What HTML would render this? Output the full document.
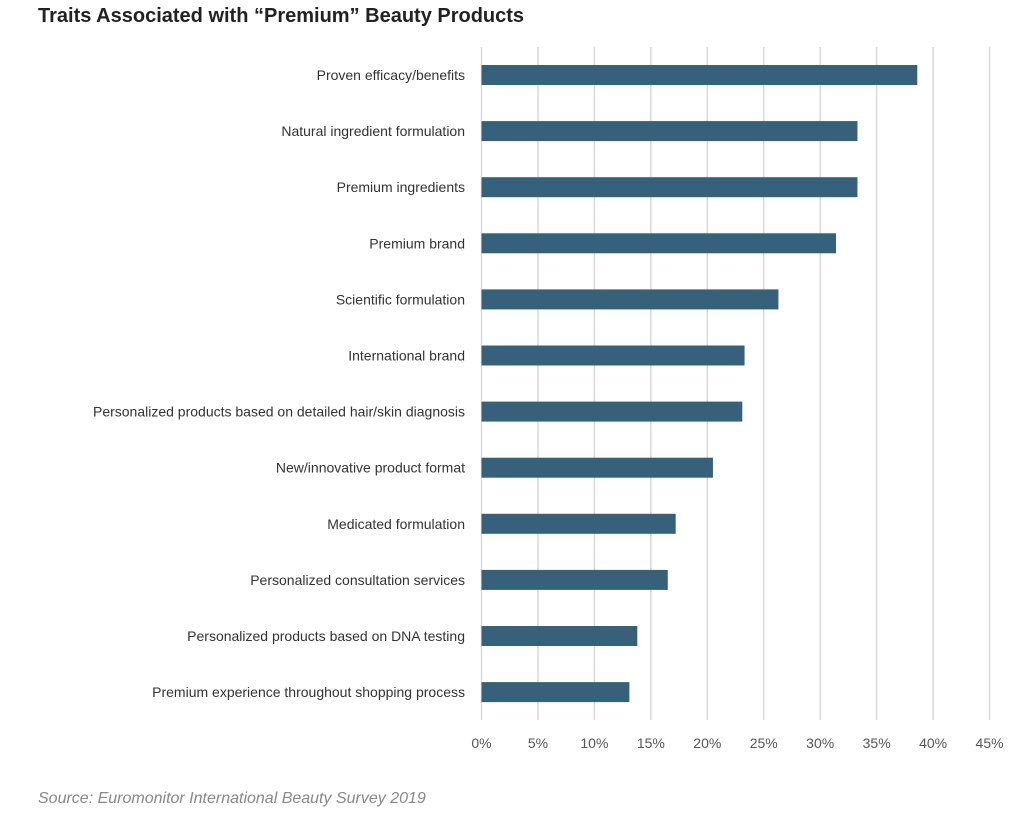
<!DOCTYPE html>
<html><head><meta charset="utf-8"><style>
body{margin:0;background:#fff;width:1024px;height:819px;overflow:hidden;font-family:"Liberation Sans",sans-serif}
</style></head><body>
<svg width="1024" height="819">
<text x="38" y="22" font-size="20" font-weight="bold" fill="#222">Traits Associated with “Premium” Beauty Products</text>
<g id="grid"></g><g id="bars"></g><g id="labels"></g><g id="ticks"></g>
<text x="38" y="803" font-size="16" font-style="italic" fill="#888">Source: Euromonitor International Beauty Survey 2019</text>
</svg>
<script>
const categories=["Proven efficacy/benefits","Natural ingredient formulation","Premium ingredients","Premium brand","Scientific formulation","International brand","Personalized products based on detailed hair/skin diagnosis","New/innovative product format","Medicated formulation","Personalized consultation services","Personalized products based on DNA testing","Premium experience throughout shopping process"];
const values=[38.6,33.3,33.3,31.4,26.3,23.3,23.1,20.5,17.2,16.5,13.8,13.1];
const tickValues=[0,5,10,15,20,25,30,35,40,45];
const NS="http://www.w3.org/2000/svg";
const x=v=>481.5+v*11.29;
const y=i=>75+i*56.1;
function mk(t,a,p){const e=document.createElementNS(NS,t);for(const k in a)e.setAttribute(k,a[k]);document.getElementById(p).appendChild(e);return e;}
tickValues.forEach(v=>{
 const l=mk('line',{x1:x(v),x2:x(v),y1:47,y2:720,stroke:'#d9d9d9','stroke-width':1.5},'grid');
 
 
 const t=mk('text',{x:x(v),y:748,'font-size':14,fill:'#555','text-anchor':'middle'},'ticks');
 t.textContent=v+'%';
 
 
});
categories.forEach((c,i)=>{
 const r=mk('rect',{x:x(0),y:y(i)-10,width:x(values[i])-x(0),height:20,fill:'#37607a'},'bars');
 
 
 const t=mk('text',{x:465,y:y(i)+5,'font-size':14,fill:'#333','text-anchor':'end'},'labels');
 t.textContent=c;
 
 
});
</script>
</body></html>
